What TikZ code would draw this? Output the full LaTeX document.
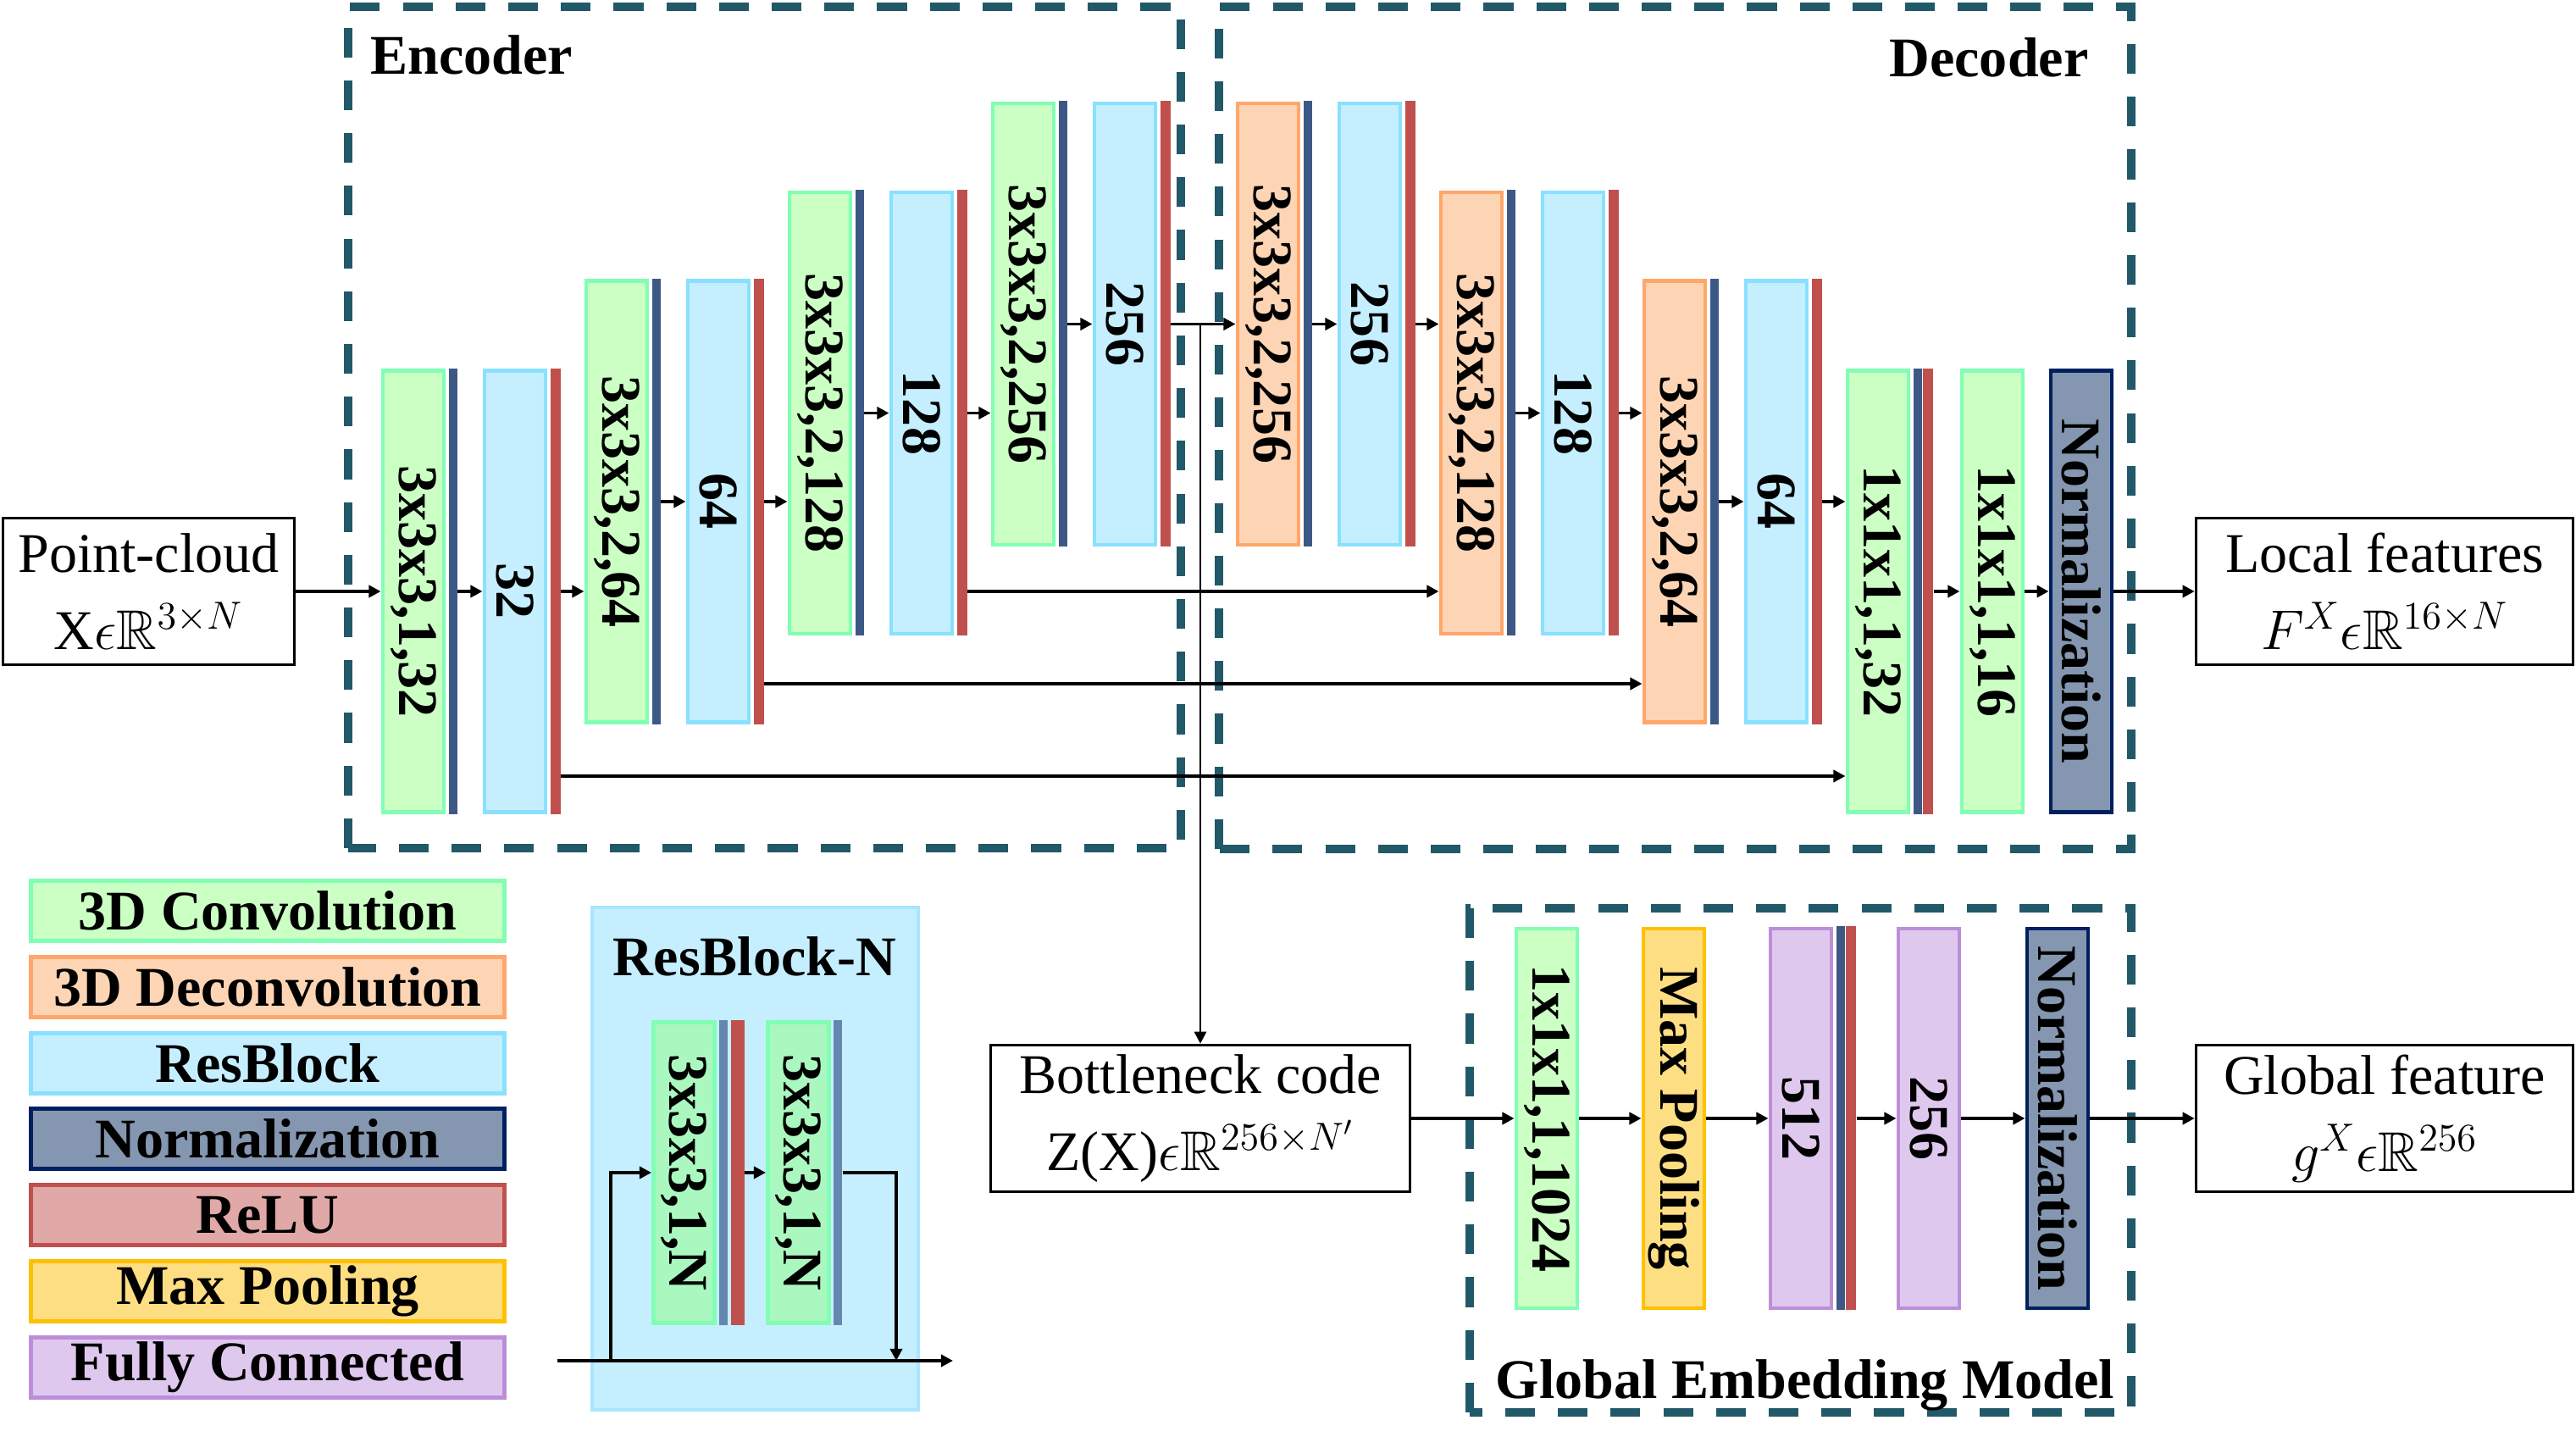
\RequirePackage{fix-cm}
\documentclass[tikz,border=0pt]{standalone}
\usepackage{fontspec}
\setmainfont{Liberation Serif}
\usepackage{amssymb}
\usepackage{graphicx}
\usetikzlibrary{arrows.meta}

% Layer colours
\definecolor{convfill}{HTML}{CCFFC4}
\definecolor{convline}{HTML}{80FFB4}
\definecolor{deconvfill}{HTML}{FDD5B4}
\definecolor{deconvline}{HTML}{FFA76A}
\definecolor{resfill}{HTML}{C5EFFF}
\definecolor{resline}{HTML}{89E0FF}
\definecolor{normfill}{HTML}{8496B0}
\definecolor{normline}{HTML}{002060}
\definecolor{relufill}{HTML}{E0A8A6}
\definecolor{reluline}{HTML}{C0504D}
\definecolor{poolfill}{HTML}{FEDE82}
\definecolor{poolline}{HTML}{FFC000}
\definecolor{fcfill}{HTML}{DFC8EE}
\definecolor{fcline}{HTML}{BC8ED9}
\definecolor{stripblue}{HTML}{3E5886}
\definecolor{innerfill}{HTML}{AAF8C0}
\definecolor{innerstrip}{HTML}{6487B0}
\definecolor{panelline}{HTML}{A8E6FF}
\definecolor{frameteal}{HTML}{215968}

\newcommand{\vlabel}[1]{\rotatebox{-90}{#1}}

\tikzset{
  layer/.style={draw, line width=1.4pt, minimum width=0.72cm, minimum height=5.21cm, inner sep=0pt, font=\bfseries},
  short/.style={minimum height=4.48cm},
  conv/.style={layer, fill=convfill, draw=convline},
  deconv/.style={layer, fill=deconvfill, draw=deconvline},
  res/.style={layer, fill=resfill, draw=resline},
  norm/.style={layer, fill=normfill, draw=normline},
  pool/.style={layer, fill=poolfill, draw=poolline},
  fc/.style={layer, fill=fcfill, draw=fcline},
  nstrip/.style={fill=stripblue, minimum width=0.1cm, minimum height=#1, inner sep=0pt, anchor=west},
  nstrip/.default=5.26cm,
  rstrip/.style={fill=reluline, minimum width=0.12cm, minimum height=#1, inner sep=0pt, anchor=west},
  rstrip/.default=5.26cm,
  iobox/.style={draw, line width=1pt, align=center, inner sep=0pt, minimum height=1.73cm},
  legend/.style={draw, line width=1.4pt, minimum width=5.59cm, minimum height=0.71cm, inner sep=0pt, font=\bfseries},
  frame/.style={draw=frameteal, line width=2.6pt, dash pattern=on 10pt off 7.7pt},
  link/.style={line width=1.1pt, -{Triangle[length=4pt,width=4pt]}},
  branch/.style={line width=0.8pt, -{Triangle[length=4pt,width=4pt]}}
}

\begin{document}
\fontsize{18.8}{23}\selectfont
\begin{tikzpicture}

\useasboundingbox (0,0) rectangle (30.41,17.08);

% Dashed frames
\draw[frame] (4.11,7.07) rectangle (13.94,17.00);
\draw[frame] (14.39,7.06) rectangle (25.16,17.00);
\draw[frame] (17.35,0.41) rectangle (25.16,6.36);

\node[font=\bfseries] (enc) at (5.57,16.43) {Encoder};
\node[font=\bfseries] (dec) at (23.48,16.40) {Decoder};
\node[font=\bfseries] (gem) at (21.31,0.73) {Global Embedding Model};

% Input / output boxes
\node[iobox, minimum width=3.44cm] (pc) at (1.755,10.10) {Point-cloud\\[3pt]X$\epsilon\mathbb{R}^{3\times N}$};
\node[iobox, minimum width=4.45cm] (lf) at (28.15,10.10) {Local features\\[3pt]$F^{X}\epsilon\mathbb{R}^{16\times N}$};
\node[iobox, minimum width=4.95cm] (bn) at (14.17,3.88) {Bottleneck code\\[3pt]Z(X)$\epsilon\mathbb{R}^{256\times N'}$};
\node[iobox, minimum width=4.45cm] (gf) at (28.15,3.88) {Global feature\\[3pt]$g^{X}\epsilon\mathbb{R}^{256}$};

% Encoder layers
\node[conv] (c1) at (4.88,10.10) {\vlabel{3x3x3,1,32}};
\node[nstrip] (c1n) at ([xshift=0.7pt]c1.east) {};
\node[res] (r1) at (6.08,10.10) {\vlabel{32}};
\node[rstrip] (r1r) at ([xshift=0.7pt]r1.east) {};
\node[conv] (c2) at (7.28,11.16) {\vlabel{3x3x3,2,64}};
\node[nstrip] (c2n) at ([xshift=0.7pt]c2.east) {};
\node[res] (r2) at (8.48,11.16) {\vlabel{64}};
\node[rstrip] (r2r) at ([xshift=0.7pt]r2.east) {};
\node[conv] (c3) at (9.68,12.205) {\vlabel{3x3x3,2,128}};
\node[nstrip] (c3n) at ([xshift=0.7pt]c3.east) {};
\node[res] (r3) at (10.88,12.205) {\vlabel{128}};
\node[rstrip] (r3r) at ([xshift=0.7pt]r3.east) {};
\node[conv] (c4) at (12.08,13.255) {\vlabel{3x3x3,2,256}};
\node[nstrip] (c4n) at ([xshift=0.7pt]c4.east) {};
\node[res] (r4) at (13.28,13.255) {\vlabel{256}};
\node[rstrip] (r4r) at ([xshift=0.7pt]r4.east) {};

% Decoder layers
\node[deconv] (d1) at (14.97,13.255) {\vlabel{3x3x3,2,256}};
\node[nstrip] (d1n) at ([xshift=0.7pt]d1.east) {};
\node[res] (s1) at (16.17,13.255) {\vlabel{256}};
\node[rstrip] (s1r) at ([xshift=0.7pt]s1.east) {};
\node[deconv] (d2) at (17.37,12.205) {\vlabel{3x3x3,2,128}};
\node[nstrip] (d2n) at ([xshift=0.7pt]d2.east) {};
\node[res] (s2) at (18.57,12.205) {\vlabel{128}};
\node[rstrip] (s2r) at ([xshift=0.7pt]s2.east) {};
\node[deconv] (d3) at (19.77,11.16) {\vlabel{3x3x3,2,64}};
\node[nstrip] (d3n) at ([xshift=0.7pt]d3.east) {};
\node[res] (s3) at (20.97,11.16) {\vlabel{64}};
\node[rstrip] (s3r) at ([xshift=0.7pt]s3.east) {};
\node[conv] (c5) at (22.17,10.10) {\vlabel{1x1x1,1,32}};
\node[nstrip] (c5n) at ([xshift=0.7pt]c5.east) {};
\node[rstrip] (c5r) at (c5n.east) {};
\node[conv] (c6) at (23.52,10.10) {\vlabel{1x1x1,1,16}};
\node[norm] (n1) at (24.57,10.10) {\vlabel{Normalization}};

% Global embedding layers
\node[conv, short] (g1) at (18.26,3.88) {\vlabel{1x1x1,1,1024}};
\node[pool, short] (g2) at (19.76,3.88) {\vlabel{Max Pooling}};
\node[fc, short] (g3) at (21.26,3.88) {\vlabel{512}};
\node[nstrip=4.53cm] (g3n) at ([xshift=0.7pt]g3.east) {};
\node[rstrip=4.53cm] (g3r) at (g3n.east) {};
\node[fc, short] (g4) at (22.77,3.88) {\vlabel{256}};
\node[norm, short] (g5) at (24.29,3.88) {\vlabel{Normalization}};

% Main flow
\draw[link] (pc.east) -- (c1.west);
\draw[link] (c1n.east) -- (r1.west);
\draw[link] (r1r.east) -- (r1r.east -| c2.west);
\draw[link] (c2n.east) -- (r2.west);
\draw[link] (r2r.east) -- (r2r.east -| c3.west);
\draw[link] (c3n.east) -- (r3.west);
\draw[link] (r3r.east) -- (r3r.east -| c4.west);
\draw[link] (c4n.east) -- (r4.west);
\draw[link] (r4r.east) -- (d1.west);
\draw[link] (d1n.east) -- (s1.west);
\draw[link] (s1r.east) -- (s1r.east -| d2.west);
\draw[link] (d2n.east) -- (s2.west);
\draw[link] (s2r.east) -- (s2r.east -| d3.west);
\draw[link] (d3n.east) -- (s3.west);
\draw[link] (s3r.east) -- (s3r.east -| c5.west);
\draw[link] (c5r.east) -- (c6.west);
\draw[link] (c6.east) -- (n1.west);
\draw[link] (n1.east) -- (lf.west);

% Skip connections
\draw[link] (r3r.east |- c1) -- (d2.west |- c1);
\draw[link] (r2r.east |- 0,9.01) -- (d3.west |- 0,9.01);
\draw[link] (r1r.east |- 0,7.92) -- (c5.west |- 0,7.92);

% Bottleneck branch
\draw[branch] (r4r.east -| bn.north) -- (bn.north);

% Global embedding flow
\draw[link] (bn.east) -- (g1.west);
\draw[link] (g1.east) -- (g2.west);
\draw[link] (g2.east) -- (g3.west);
\draw[link] (g3r.east) -- (g4.west);
\draw[link] (g4.east) -- (g5.west);
\draw[link] (g5.east) -- (gf.west);

% Legend
\node[legend, fill=convfill, draw=convline] (lg1) at (3.16,6.33) {3D Convolution};
\node[legend, fill=deconvfill, draw=deconvline] (lg2) at (3.16,5.43) {3D Deconvolution};
\node[legend, fill=resfill, draw=resline] (lg3) at (3.16,4.53) {ResBlock};
\node[legend, fill=normfill, draw=normline] (lg4) at (3.16,3.64) {Normalization};
\node[legend, fill=relufill, draw=reluline] (lg5) at (3.16,2.74) {ReLU};
\node[legend, fill=poolfill, draw=poolline] (lg6) at (3.16,1.84) {Max Pooling};
\node[legend, fill=fcfill, draw=fcline] (lg7) at (3.16,0.94) {Fully Connected};

% ResBlock-N panel
\draw[fill=resfill, draw=panelline, line width=1.2pt] (6.99,0.44) rectangle (10.84,6.37);
\node[font=\bfseries] (rbn) at (8.91,5.79) {ResBlock-N};
\node[layer, fill=innerfill, draw=convline, minimum height=3.55cm] (i1) at (8.075,3.24) {\vlabel{3x3x3,1,N}};
\node[nstrip=3.60cm, fill=innerstrip] (i1n) at ([xshift=0.7pt]i1.east) {};
\node[rstrip=3.60cm, minimum width=0.16cm] (i1r) at ([xshift=0.02cm]i1n.east) {};
\node[layer, fill=innerfill, draw=convline, minimum height=3.55cm] (i2) at (9.425,3.24) {\vlabel{3x3x3,1,N}};
\node[nstrip=3.60cm, fill=innerstrip] (i2n) at ([xshift=0.7pt]i2.east) {};

\coordinate (rin) at (6.58,1.02);
\coordinate (rout) at (11.25,1.02);
\coordinate (fork) at (7.21,1.02);
\coordinate (join) at (10.58,1.02);
\draw[link] (rin) -- (rout);
\draw[link] (fork) |- (i1.west);
\draw[link] (i1r.east) -- (i2.west);
\draw[link] (i2n.east) -| (join);

\end{tikzpicture}
\end{document}
